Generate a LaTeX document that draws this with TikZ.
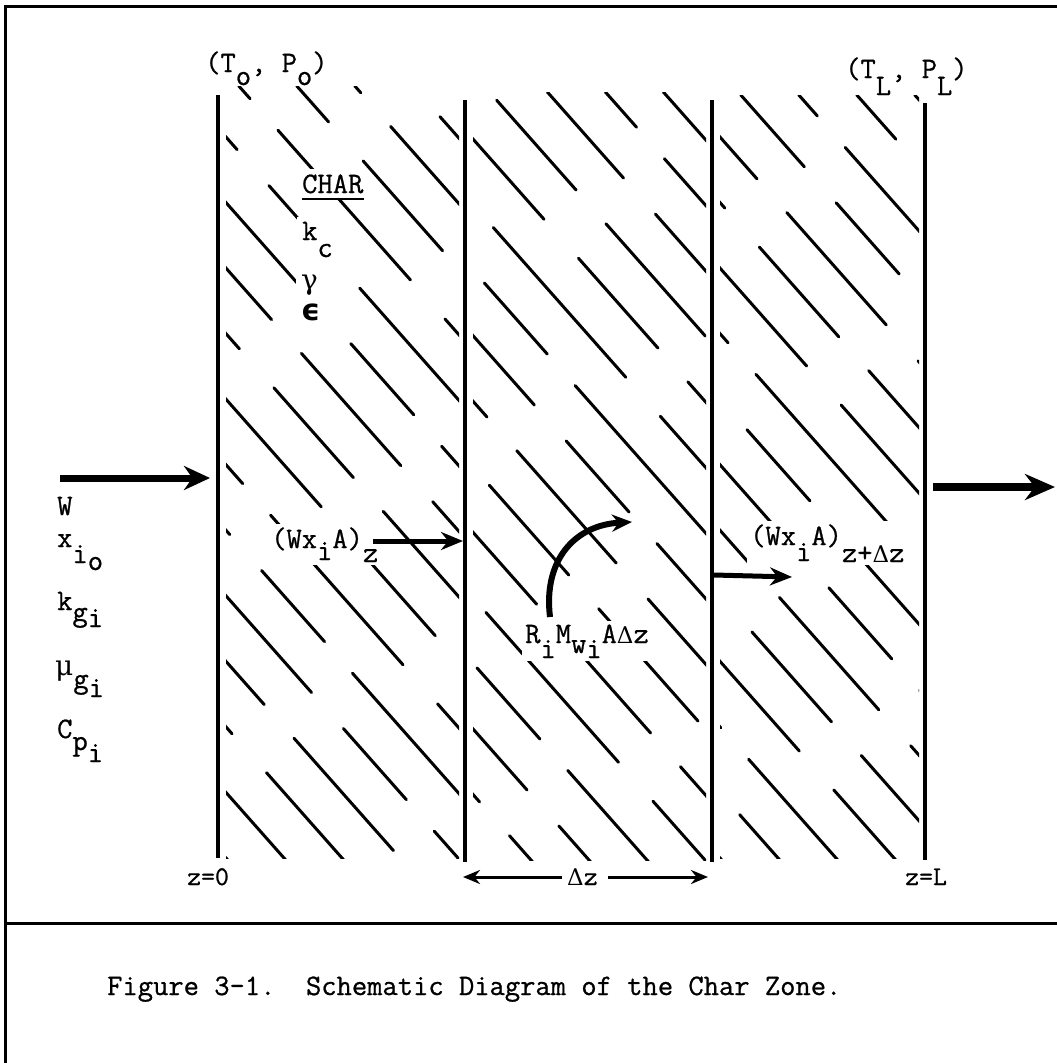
\documentclass[tikz,border=0pt]{standalone}
\usepackage{fontspec}
\usetikzlibrary{arrows.meta}
\newfontfamily\djv{DejaVu Sans}
\newfontfamily\grkf{DejaVu Serif}
\newfontfamily\twf{Latin Modern Mono}[FakeBold=0.8]
\newcommand\tw{\twf\fontsize{29.7}{32}\selectfont}
\newcommand\tws{\twf\fontsize{27}{30}\selectfont}
\newcommand\grk{\grkf\fontsize{23}{26}\selectfont}
\newcommand\grkb{\grkf\fontsize{28}{30}\selectfont}
\newcommand\D{{\grk Δ}}
\newcommand\dn[2]{\raisebox{-#1pt}{#2}}
\newcommand\hatchcol[5]{%
  \begin{scope}
    \clip (#1,#3) rectangle (#2,#4);
    \foreach \i in {0,...,18}{%
      \pgfmathsetmacro\cc{#1-(#4-#3)/1.13+\i*58}%
      \pgfmathsetmacro\ph{mod(\i*211+#5,752)}%
      \draw[hatch,dash phase=\ph pt] (\cc,#3) -- ++({(#4-#3+20)/1.13},{#4-#3+20});
    }
  \end{scope}}
\begin{document}
\begin{tikzpicture}[x=1pt,y=-1pt,
  frame/.style={line width=3pt},
  wall/.style={line width=4pt},
  hatch/.style={line width=3pt,line cap=round,
    dash pattern=on 150pt off 48pt on 95pt off 42pt on 200pt off 52pt on 120pt off 45pt},
  lbl/.style={font=\tw,inner sep=0pt,anchor=base west},
  slbl/.style={font=\tws,inner sep=0pt,anchor=base west},
  blank/.style={fill=white,inner sep=3pt},
  bigarrow/.style={line width=7pt,-{Stealth[length=26pt,width=24pt]}},
  midarrow/.style={line width=5pt,-{Stealth[length=22pt,width=18pt]}},
  dimarrow/.style={line width=3pt,-{Stealth[length=17pt,width=14pt]}}]
\fill[white] (0,0) rectangle (1057,1063);
\useasboundingbox (0,0) rectangle (1057,1063);

% frame
\coordinate (frBL) at (5,1063);
\coordinate (frTL) at (5,6);
\coordinate (frTR) at (1057,6);
\coordinate (sepL) at (5,923);
\coordinate (sepR) at (1057,923);
\draw[frame] (frBL) -- (frTL) -- (frTR);
\draw[frame] (sepL) -- (sepR);

% hatching
\hatchcol{226}{459}{86}{858}{0}
\hatchcol{473}{706}{92}{860}{300}
\hatchcol{720}{919}{95}{858}{530}

% walls
\coordinate (w1t) at (218,95);  \coordinate (w1b) at (218,858);
\coordinate (w2t) at (465,100); \coordinate (w2b) at (465,862);
\coordinate (w3t) at (712,100); \coordinate (w3b) at (712,862);
\coordinate (w4t) at (925,103); \coordinate (w4b) at (925,860);
\draw[wall] (w1t) -- (w1b);
\draw[wall] (w2t) -- (w2b);
\draw[wall] (w3t) -- (w3b);
\draw[wall] (w4t) -- (w4b);

% labels
\node[lbl] (tpo) at (205,72) {(T\dn{13}{o}, P\dn{13}{o})};
\node[lbl] (tpl) at (845,78) {(T\dn{17}{L}, P\dn{17}{L})};
\node[lbl,blank,inner sep=5pt] (char) at (297,193) {CHAR};
\draw[line width=1.5pt] ([yshift=-6pt,xshift=5pt]char.base west) -- ([yshift=-6pt,xshift=-5pt]char.base east);
\node[lbl,blank,inner sep=5pt] (kc) at (297,240) {k\dn{17}{c}};
\node[lbl,blank,inner sep=5pt] (gam) at (296,289) {\grkb γ};
\node[lbl,blank,inner sep=4pt] (eps) at (297,320) {\djv\bfseries ϵ};
\node[lbl] (w) at (57,515) {W};
\node[lbl] (xio) at (57,547) {x\dn{16}{i}\dn{23}{o}};
\node[lbl] (kgi) at (57,610) {k\dn{11}{g}\dn{17}{i}};
\node[lbl] (mgi) at (55,675) {{\grkb μ}\dn{13}{g}\dn{22}{i}};
\node[lbl] (cpi) at (57,738) {C\dn{12}{p}\dn{24}{i}};
\node[lbl,blank] (fz) at (268,548) {(Wx\dn{12}{i}A)\dn{14}{z}};
\node[lbl,blank] (rm) at (522,643) {R\dn{15}{i}M\dn{10}{w}\dn{15}{i}A\D z};
\node[lbl,blank] (fzd) at (747,545) {(Wx\dn{16}{i}A)\dn{17}{z+\D z}};
\node[slbl] (z0) at (187,885) {z=0};
\node[slbl] (dz) at (567,885) {\D z};
\node[slbl] (zl) at (905,885) {z=L};
\node[lbl] (cap) at (107,995) {Figure 3-1.\ \ Schematic Diagram of the Char Zone.};

% arrows
\coordinate (ina) at (60,478);  \coordinate (inb) at (210,478);
\draw[bigarrow] (ina) -- (inb);
\coordinate (fza) at (373,541); \coordinate (fzb) at (463,541);
\draw[midarrow] (fza) -- (fzb);
\coordinate (fda) at (714,575); \coordinate (fdb) at (792,577);
\draw[midarrow] (fda) -- (fdb);
\coordinate (outa) at (933,487); \coordinate (outb) at (1055,487);
\draw[line width=8pt,-{Stealth[length=30pt,width=26pt]}] (outa) -- (outb);
\coordinate (rb) at (550,617); \coordinate (rt) at (632,522);
\draw[line width=6pt,-{Stealth[length=20pt,width=17pt]}] (rb) .. controls (543,560) and (575,525) .. (rt);
\coordinate (dzla) at (562,877); \coordinate (dzlb) at (463,877);
\coordinate (dzra) at (608,877); \coordinate (dzrb) at (708,877);
\draw[dimarrow] (dzla) -- (dzlb);
\draw[dimarrow] (dzra) -- (dzrb);
\end{tikzpicture}
\end{document}
